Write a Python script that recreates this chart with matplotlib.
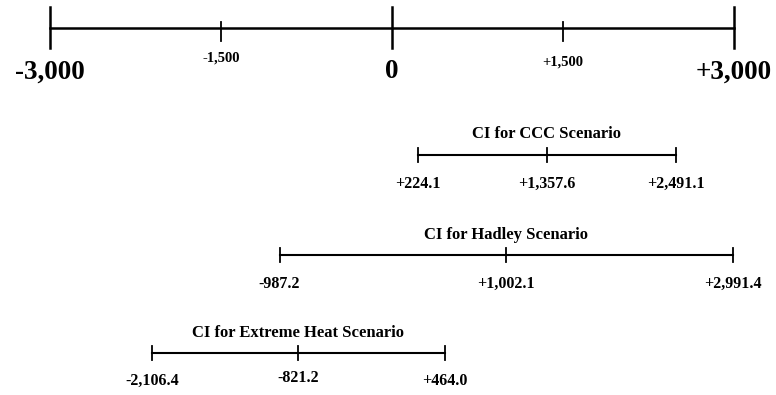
import matplotlib.pyplot as plt

# main scale
axis_ticks = [-3000, -1500, 0, 1500, 3000]
axis_labels = ['-3,000', '-1,500', '0', '+1,500', '+3,000']
axis_big = [True, False, True, False, True]

# confidence intervals: (low, point, high)
scenarios = ['CI for CCC Scenario', 'CI for Hadley Scenario', 'CI for Extreme Heat Scenario']
ci_low = [224.1, -987.2, -2106.4]
ci_mid = [1357.6, 1002.1, -821.2]
ci_high = [2491.1, 2991.4, 464.0]
ci_low_lbl = ['+224.1', '-987.2', '-2,106.4']
ci_mid_lbl = ['+1,357.6', '+1,002.1', '-821.2']
ci_high_lbl = ['+2,491.1', '+2,991.4', '+464.0']

plt.rcParams['font.family'] = ['Liberation Serif', 'DejaVu Serif']

fig = plt.figure(figsize=(7.76, 3.95), dpi=100)
ax = fig.add_axes([0, 0, 1, 1])
ax.set_xlim(-3439, 3368)
ax.set_ylim(395, 0)
ax.axis('off')

# main number line
line_y = 28
ax.plot([axis_ticks[0], axis_ticks[-1]], [line_y, line_y], color='black', lw=1.8)
for t, lbl, big in zip(axis_ticks, axis_labels, axis_big):
    if big:
        ax.plot([t, t], [line_y - 21, line_y + 20], color='black', lw=1.8)
        ax.text(t, 72, lbl, ha='center', va='center', fontsize=19.5, fontweight='bold')
    else:
        ax.plot([t, t], [line_y - 6, line_y + 13], color='black', lw=1.3)
        ax.text(t, 58 if t < 0 else 62, lbl, ha='center', va='center', fontsize=10.5, fontweight='bold')

# CI bars
title_y = [134, 235, 333]
bar_y = [155, 255, 353]
lab_y = [184, 284, 381]
for i in range(len(scenarios)):
    y = bar_y[i]
    ax.plot([ci_low[i], ci_high[i]], [y, y], color='black', lw=1.5)
    for v in (ci_low[i], ci_mid[i], ci_high[i]):
        ax.plot([v, v], [y - 7, y + 7], color='black', lw=1.3)
    ax.text(ci_mid[i], title_y[i], scenarios[i], ha='center', va='center', fontsize=12, fontweight='bold')
    ax.text(ci_low[i], lab_y[i], ci_low_lbl[i], ha='center', va='center', fontsize=11.5, fontweight='bold')
    ax.text(ci_mid[i], lab_y[i] - (3 if i == 2 else 0), ci_mid_lbl[i], ha='center', va='center', fontsize=11.5, fontweight='bold')
    ax.text(ci_high[i], lab_y[i], ci_high_lbl[i], ha='center', va='center', fontsize=11.5, fontweight='bold')

fig.savefig('out.png', dpi=100)
